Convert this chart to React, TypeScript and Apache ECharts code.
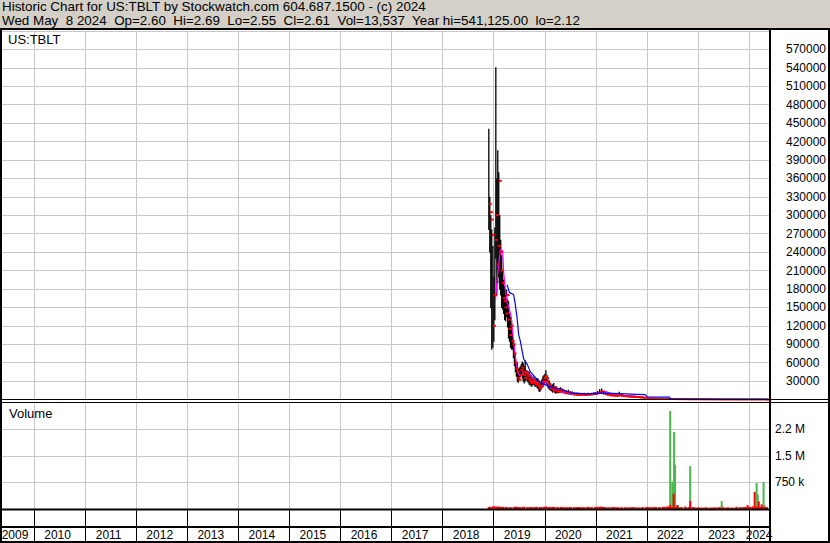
import React, { useEffect, useRef } from "react";
import * as echarts from "echarts";

// ---------- DATA ----------
const headerLine1 = "Historic Chart for US:TBLT by Stockwatch.com 604.687.1500 - (c) 2024";
const headerLine2 =
  "Wed May  8 2024  Op=2.60  Hi=2.69  Lo=2.55  Cl=2.61  Vol=13,537  Year hi=541,125.00  lo=2.12";
const symbolLabel = "US:TBLT";
const volumeLabel = "Volume";

// [date, high, low, close]
const barsLaunch: [string, number, number, number][] = [
  ["2018-11-27", 441000, 277000, 318000],
  ["2018-12-04", 330000, 240000, 305000],
  ["2018-12-11", 300000, 150000, 293000],
  ["2018-12-18", 277000, 82000, 268000],
  ["2018-12-26", 250000, 85000, 120000],
  ["2019-01-02", 200000, 95000, 170000],
  ["2019-01-09", 280000, 130000, 260000],
  ["2019-01-16", 541125, 230000, 300000],
  ["2019-01-23", 360000, 170000, 220000],
  ["2019-01-30", 406000, 190000, 250000],
  ["2019-02-06", 370000, 200000, 356000],
  ["2019-02-13", 300000, 180000, 240000],
  ["2019-02-20", 260000, 170000, 210000],
  ["2019-02-27", 235000, 150000, 190000],
  ["2019-03-06", 210000, 147000, 165000],
  ["2019-03-13", 195000, 140000, 160000],
  ["2019-03-20", 185000, 130000, 150000],
  ["2019-03-27", 175000, 128000, 140000],
  ["2019-04-03", 179000, 135000, 170000],
  ["2019-04-10", 163000, 118000, 130000],
  ["2019-04-17", 160000, 100000, 115000],
  ["2019-04-24", 140000, 95000, 105000],
  ["2019-05-01", 135000, 85000, 120000],
  ["2019-05-08", 130000, 82000, 95000],
  ["2019-05-15", 110000, 82000, 90000],
  ["2019-05-22", 98000, 68000, 75000],
  ["2019-05-29", 90000, 55000, 60000],
  ["2019-06-05", 75000, 45000, 50000],
  ["2019-06-12", 62000, 38000, 45000],
  ["2019-06-19", 60000, 30000, 35000],
  ["2019-06-26", 50000, 28000, 32000],
  ["2019-07-03", 52000, 33000, 40000],
  ["2019-07-10", 54000, 37000, 48000],
  ["2019-07-17", 58000, 40000, 52000],
  ["2019-07-24", 62000, 35000, 45000],
  ["2019-07-31", 60000, 30000, 40000],
  ["2019-08-07", 55000, 27000, 35000],
  ["2019-08-14", 64000, 30000, 45000],
  ["2019-08-21", 48000, 33000, 42000],
  ["2019-08-28", 47000, 30000, 38000],
  ["2019-09-04", 45000, 28000, 33000],
  ["2019-09-11", 46000, 25000, 30000],
  ["2019-09-18", 42000, 24000, 28000],
  ["2019-09-25", 40000, 22000, 27000],
  ["2019-10-02", 38000, 22000, 30000],
  ["2019-10-09", 37000, 25000, 32000],
  ["2019-10-16", 36000, 24000, 27000],
  ["2019-10-23", 34000, 21000, 25000],
  ["2019-10-30", 33000, 22000, 24000],
  ["2019-11-06", 35000, 20000, 28000],
  ["2019-11-13", 34000, 18000, 22000],
  ["2019-11-20", 30000, 14000, 18000],
  ["2019-11-27", 26000, 13000, 20000],
  ["2019-12-04", 28000, 16000, 22000],
  ["2019-12-11", 33000, 20000, 28000],
  ["2019-12-18", 38000, 22000, 30000],
  ["2019-12-26", 40000, 24000, 35000],
];

const bars2020: [string, number, number, number][] = [
  ["2020-01-02", 42000, 27000, 38000],
  ["2020-01-09", 47600, 28000, 35000],
  ["2020-01-16", 40000, 25000, 30000],
  ["2020-01-23", 33000, 20000, 25000],
  ["2020-01-30", 30000, 18000, 22000],
  ["2020-02-06", 28000, 16000, 20000],
  ["2020-02-13", 26000, 15000, 18000],
  ["2020-02-20", 24000, 14000, 17000],
  ["2020-02-27", 25000, 12000, 15000],
  ["2020-03-05", 27000, 14000, 20000],
  ["2020-03-12", 22000, 12000, 15000],
  ["2020-03-19", 20000, 10000, 13000],
  ["2020-03-26", 21000, 12000, 16000],
  ["2020-04-02", 18000, 11000, 14000],
  ["2020-04-09", 17000, 11000, 13000],
  ["2020-04-16", 19000, 12000, 16000],
  ["2020-04-23", 20000, 12000, 15000],
  ["2020-05-07", 18000, 11000, 13000],
  ["2020-05-21", 16000, 10000, 12000],
  ["2020-06-04", 15000, 9000, 11000],
  ["2020-06-18", 16000, 9000, 12000],
  ["2020-07-02", 14000, 8000, 10000],
  ["2020-07-16", 13000, 8000, 9000],
  ["2020-07-30", 12000, 7000, 9000],
  ["2020-08-13", 11000, 7000, 8000],
  ["2020-08-27", 11000, 7000, 8000],
  ["2020-09-10", 10000, 7000, 8000],
  ["2020-09-24", 10000, 7000, 8000],
  ["2020-10-08", 11000, 7000, 8000],
  ["2020-10-22", 10000, 7000, 8000],
  ["2020-11-05", 11000, 7000, 9000],
  ["2020-11-19", 10000, 7000, 8000],
  ["2020-12-03", 11000, 8000, 9000],
  ["2020-12-17", 12000, 8000, 10000],
];

const bars2021: [string, number, number, number][] = [
  ["2020-12-31", 12000, 8000, 10000],
  ["2021-01-14", 14000, 9000, 11000],
  ["2021-01-28", 17000, 10000, 12000],
  ["2021-02-11", 17900, 11000, 13000],
  ["2021-02-25", 14000, 9000, 10000],
  ["2021-03-11", 12000, 8000, 9000],
  ["2021-03-25", 11000, 7000, 8000],
  ["2021-04-08", 10000, 6500, 7000],
  ["2021-04-22", 9500, 6000, 7000],
  ["2021-05-06", 9000, 6000, 6500],
  ["2021-05-20", 8500, 5500, 6000],
  ["2021-06-03", 10000, 5500, 6500],
  ["2021-06-17", 12500, 6000, 7000],
  ["2021-07-01", 9000, 5500, 6000],
  ["2021-07-15", 8000, 5000, 5500],
  ["2021-07-29", 7500, 5000, 5500],
  ["2021-08-12", 7000, 4500, 5000],
  ["2021-08-26", 7000, 4500, 5000],
  ["2021-09-09", 6500, 4000, 4500],
  ["2021-09-23", 6500, 4000, 4500],
  ["2021-10-07", 6000, 3800, 4200],
  ["2021-10-21", 5500, 3500, 4000],
  ["2021-11-04", 5000, 3200, 3600],
  ["2021-11-18", 4800, 3000, 3400],
  ["2021-12-02", 4400, 2800, 3000],
  ["2021-12-16", 4000, 2500, 2800],
];

const barsLate: [string, number, number, number][] = [
  ["2022-01-06", 2500, 1600, 1900],
  ["2022-01-27", 2300, 1500, 1800],
  ["2022-02-17", 2100, 1400, 1600],
  ["2022-03-10", 1900, 1200, 1400],
  ["2022-03-31", 1700, 1100, 1300],
  ["2022-04-21", 1500, 1000, 1200],
  ["2022-05-12", 1300, 900, 1000],
  ["2022-06-02", 1200, 800, 900],
  ["2022-06-23", 1800, 700, 800],
  ["2022-07-14", 1500, 600, 700],
  ["2022-08-04", 1000, 600, 650],
  ["2022-08-25", 900, 550, 600],
  ["2022-09-15", 800, 500, 550],
  ["2022-10-06", 700, 450, 500],
  ["2022-10-27", 650, 400, 450],
  ["2022-11-17", 900, 350, 400],
  ["2022-12-08", 500, 300, 350],
  ["2022-12-29", 450, 280, 300],
  ["2023-01-19", 420, 250, 280],
  ["2023-02-09", 380, 220, 250],
  ["2023-03-02", 350, 200, 220],
  ["2023-03-23", 300, 180, 200],
  ["2023-04-13", 260, 150, 170],
  ["2023-05-04", 230, 130, 150],
  ["2023-05-25", 200, 110, 130],
  ["2023-06-15", 190, 100, 120],
  ["2023-07-06", 160, 90, 100],
  ["2023-07-27", 140, 80, 90],
  ["2023-08-17", 120, 70, 80],
  ["2023-09-07", 100, 60, 70],
  ["2023-09-28", 90, 50, 60],
  ["2023-10-19", 70, 40, 45],
  ["2023-11-09", 55, 30, 35],
  ["2023-11-30", 40, 20, 25],
  ["2023-12-21", 30, 12, 15],
  ["2024-01-11", 18, 8, 10],
  ["2024-02-01", 12, 5, 6],
  ["2024-02-22", 8, 3, 4],
  ["2024-03-14", 5, 2.5, 3.2],
  ["2024-04-04", 4, 2.3, 2.8],
  ["2024-04-25", 3.2, 2.2, 2.7],
  ["2024-05-08", 2.69, 2.55, 2.61],
];

// moving averages [date, value]
const pinkMA: [string, number][] = [
  ["2019-01-13", 160000],
  ["2019-01-27", 200000],
  ["2019-02-18", 245000],
  ["2019-03-06", 242000],
  ["2019-03-13", 207000],
  ["2019-03-25", 179000],
  ["2019-04-06", 158000],
  ["2019-04-17", 152000],
  ["2019-05-05", 136000],
  ["2019-05-19", 103000],
  ["2019-06-04", 70600],
  ["2019-06-17", 51600],
  ["2019-06-28", 40800],
  ["2019-07-10", 38000],
  ["2019-08-03", 43500],
  ["2019-08-27", 44500],
  ["2019-09-20", 39000],
  ["2019-11-06", 27000],
  ["2019-11-30", 21700],
  ["2019-12-24", 24000],
  ["2020-01-05", 30000],
  ["2020-01-19", 27000],
  ["2020-02-10", 19000],
  ["2020-04-21", 11900],
  ["2020-07-02", 9200],
  ["2020-09-12", 8000],
  ["2020-11-22", 9000],
  ["2021-01-20", 10500],
  ["2021-02-20", 13600],
  ["2021-03-20", 12500],
  ["2021-04-20", 9500],
  ["2021-06-25", 7000],
  ["2021-11-14", 4500],
  ["2022-01-15", 2200],
  ["2022-06-17", 900],
  ["2023-06-01", 200],
  ["2024-05-08", 10],
];

const blueMA: [string, number][] = [
  ["2019-04-06", 187000],
  ["2019-04-24", 174000],
  ["2019-05-23", 171000],
  ["2019-06-04", 155000],
  ["2019-06-17", 133000],
  ["2019-06-28", 106000],
  ["2019-07-10", 95000],
  ["2019-08-03", 66000],
  ["2019-08-27", 58000],
  ["2019-09-20", 45000],
  ["2019-11-06", 33000],
  ["2019-12-24", 25000],
  ["2020-03-05", 19000],
  ["2020-05-15", 15000],
  ["2020-07-02", 10900],
  ["2020-10-29", 9000],
  ["2021-02-25", 10500],
  ["2021-06-25", 9500],
  ["2021-10-22", 8500],
  ["2021-12-20", 8000],
  ["2022-01-05", 4300],
  ["2022-06-10", 4000],
  ["2022-06-20", 900],
  ["2024-05-08", 700],
];

// volume [date, shares]
const volUp: [string, number][] = [
  ["2019-06-10", 65000],
  ["2020-01-15", 70000],
  ["2020-08-15", 60000],
  ["2021-02-10", 70000],
  ["2021-09-15", 55000],
  ["2022-06-16", 2760000],
  ["2022-07-01", 770000],
  ["2022-07-14", 2170000],
  ["2022-07-21", 1250000],
  ["2022-08-12", 110000],
  ["2022-10-01", 80000],
  ["2022-11-06", 1210000],
  ["2023-06-19", 225000],
  ["2023-06-26", 80000],
  ["2023-10-04", 70000],
  ["2023-11-23", 60000],
  ["2024-02-24", 730000],
  ["2024-03-03", 410000],
  ["2024-04-14", 760000],
  ["2024-04-21", 110000],
];

const volDownBase: [string, number][] = [
  ["2018-12-03", 60000], ["2019-01-02", 75000], ["2019-02-01", 70000], ["2019-03-01", 60000],
  ["2019-04-01", 55000], ["2019-05-01", 50000], ["2019-06-03", 60000], ["2019-07-01", 55000],
  ["2019-08-01", 60000], ["2019-09-03", 50000], ["2019-10-01", 55000], ["2019-11-01", 60000],
  ["2019-12-02", 55000], ["2020-01-02", 65000], ["2020-02-03", 55000], ["2020-03-02", 60000],
  ["2020-04-01", 50000], ["2020-05-01", 55000], ["2020-06-01", 50000], ["2020-07-01", 55000],
  ["2020-08-03", 50000], ["2020-09-01", 55000], ["2020-10-01", 50000], ["2020-11-02", 55000],
  ["2020-12-01", 50000], ["2021-01-04", 60000], ["2021-02-01", 65000], ["2021-03-01", 55000],
  ["2021-04-01", 50000], ["2021-05-03", 55000], ["2021-06-01", 50000], ["2021-07-01", 45000],
  ["2021-08-02", 50000], ["2021-09-01", 45000], ["2021-10-01", 50000], ["2021-11-01", 45000],
  ["2021-12-01", 50000], ["2022-01-03", 55000], ["2022-02-01", 50000], ["2022-03-01", 55000],
  ["2022-04-01", 50000], ["2022-05-02", 60000], ["2022-06-01", 70000], ["2022-07-01", 60000],
  ["2022-08-01", 55000], ["2022-09-01", 50000], ["2022-10-03", 45000], ["2022-11-01", 55000],
  ["2022-12-01", 50000], ["2023-01-03", 45000], ["2023-02-01", 40000], ["2023-03-01", 45000],
  ["2023-04-03", 40000], ["2023-05-01", 45000], ["2023-06-01", 50000], ["2023-07-03", 40000],
  ["2023-08-01", 45000], ["2023-09-01", 40000], ["2023-10-02", 45000], ["2023-11-01", 50000],
  ["2023-12-01", 55000], ["2024-01-02", 60000], ["2024-02-01", 70000], ["2024-03-01", 65000],
  ["2024-04-01", 60000], ["2024-05-01", 55000],
];

const volDownSpikes: [string, number][] = [
  ["2022-06-16", 110000],
  ["2022-07-11", 430000],
  ["2022-08-05", 110000],
  ["2022-11-06", 225000],
  ["2023-12-21", 110000],
  ["2024-02-10", 480000],
  ["2024-03-10", 220000],
  ["2024-03-31", 130000],
];

const yearFirst = 2009;
const yearLast = 2024;
const axisEnd = 2024.39; // chart runs to ~mid May 2024

// ---------- HELPERS ----------
function decYear(s: string): number {
  const d = new Date(s + "T00:00:00Z");
  const y = d.getUTCFullYear();
  const a = Date.UTC(y, 0, 1);
  const b = Date.UTC(y + 1, 0, 1);
  return y + (d.getTime() - a) / (b - a);
}

const FONT = '"Liberation Sans", Arial, sans-serif';
const GRIDC = "#c8c8c8";
const GREEN = "#4cb84c";
const RED = "#ff0000";

function renderRange(_params: any, api: any) {
  const x = api.value(0);
  const hi = api.coord([x, api.value(1)]);
  const lo = api.coord([x, api.value(2)]);
  return {
    type: "line",
    shape: { x1: hi[0], y1: hi[1], x2: lo[0], y2: lo[1] + 0.5 },
    style: { stroke: "#000", lineWidth: 1.3 },
  };
}

function renderClose(_params: any, api: any) {
  const x = api.value(0);
  const cl = api.coord([x, api.value(3)]);
  return {
    type: "line",
    shape: { x1: cl[0], y1: cl[1], x2: cl[0] + 3, y2: cl[1] },
    style: { stroke: RED, lineWidth: 2 },
  };
}

function volRender(width: number, color: string) {
  return (_params: any, api: any) => {
    const x = api.value(0);
    const top = api.coord([x, api.value(1)]);
    const base = api.coord([x, 0]);
    return {
      type: "rect",
      shape: { x: top[0] - width / 2, y: top[1], width, height: base[1] - top[1] },
      style: { fill: color },
    };
  };
}

function gLine(x1: number, y1: number, x2: number, y2: number, w = 1) {
  return {
    type: "line",
    silent: true,
    z: 100,
    shape: { x1, y1, x2, y2 },
    style: { stroke: "#000", lineWidth: w },
  };
}

function gText(text: string, x: number, y: number, size = 13) {
  return {
    type: "text",
    silent: true,
    z: 101,
    x,
    y,
    style: {
      text,
      fill: "#000",
      font: `${size}px ${FONT}`,
      textVerticalAlign: "top",
      verticalAlign: "top",
    },
  };
}

function volFmt(v: number): string {
  if (v >= 1000000) return Math.floor(v / 100000) / 10 + " M";
  return v / 1000 + " k";
}

// ---------- OPTION ----------
function buildOption() {
  const allBars = [...barsLaunch, ...bars2020, ...bars2021, ...barsLate].map((b) => [
    decYear(b[0]),
    b[1],
    b[2],
    b[3],
  ]);
  const pts = (arr: [string, number][]) => arr.map((p) => [decYear(p[0]), p[1]]);

  const gridPos = { left: -17, right: 61, containLabel: false, outerBoundsMode: "none" };
  const xBase = {
    type: "value",
    min: yearFirst,
    max: axisEnd,
    interval: 1,
    axisLine: { show: false },
    axisTick: { show: false },
    axisLabel: { show: false },
    splitLine: { show: true, lineStyle: { color: GRIDC, width: 1 } },
  };

  return {
    animation: false,
    backgroundColor: "#ffffff",
    textStyle: { fontFamily: FONT },
    grid: [
      { ...gridPos, top: 31, height: 368.5 },
      { ...gridPos, top: 402.5, height: 106.5 },
      { ...gridPos, top: 510.5, height: 31 },
    ],
    xAxis: [
      { ...xBase, gridIndex: 0 },
      { ...xBase, gridIndex: 1 },
      {
        ...xBase,
        gridIndex: 2,
        splitLine: { show: true, lineStyle: { color: "#000", width: 1 } },
        axisLabel: {
          show: true,
          inside: true,
          margin: 1,
          color: "#000",
          fontSize: 12,
          fontFamily: FONT,
          formatter: (v: number) => {
            if (!Number.isInteger(v)) return "";
            if (v === yearFirst) return `{f|${v}}`;
            if (v === yearLast) return `{l|${v}}`;
            return `{m|${v}}`;
          },
          rich: {
            f: { padding: [0, 0, 0, 64], fontSize: 12, fontFamily: FONT, color: "#000" },
            m: { padding: [0, 0, 0, 47], fontSize: 12, fontFamily: FONT, color: "#000" },
            l: { padding: [0, 0, 0, 20], fontSize: 12, fontFamily: FONT, color: "#000" },
          },
        },
      },
    ],
    yAxis: [
      {
        type: "value",
        gridIndex: 0,
        position: "right",
        min: 0,
        max: 600000,
        interval: 30000,
        axisLine: { show: false },
        axisTick: { show: false },
        splitLine: { show: true, lineStyle: { color: GRIDC, width: 1 } },
        axisLabel: {
          show: true,
          showMinLabel: false,
          showMaxLabel: false,
          margin: 17,
          align: "left",
          color: "#000",
          fontSize: 12,
          fontFamily: FONT,
          padding: [0, 0, 4, 0],
          formatter: (v: number) => String(v),
        },
      },
      {
        type: "value",
        gridIndex: 1,
        position: "right",
        min: 0,
        max: 3000000,
        interval: 750000,
        axisLine: { show: false },
        axisTick: { show: false },
        splitLine: { show: true, lineStyle: { color: GRIDC, width: 1 } },
        axisLabel: {
          show: true,
          showMinLabel: false,
          showMaxLabel: false,
          margin: 6,
          align: "left",
          color: "#000",
          fontSize: 12,
          fontFamily: FONT,
          formatter: volFmt,
        },
      },
      { type: "value", gridIndex: 2, min: 0, max: 1, show: false },
    ],
    series: [
      {
        type: "custom",
        name: "price range",
        xAxisIndex: 0,
        yAxisIndex: 0,
        clip: false,
        silent: true,
        z: 2,
        renderItem: renderRange,
        encode: { x: 0, y: [1, 2, 3] },
        data: allBars,
      },
      {
        type: "line",
        name: "ma short",
        xAxisIndex: 0,
        yAxisIndex: 0,
        showSymbol: false,
        silent: true,
        z: 3,
        lineStyle: { color: "#ff00ff", width: 1.2 },
        data: pts(pinkMA),
      },
      {
        type: "custom",
        name: "close",
        xAxisIndex: 0,
        yAxisIndex: 0,
        clip: false,
        silent: true,
        z: 4,
        renderItem: renderClose,
        encode: { x: 0, y: [1, 2, 3] },
        data: allBars,
      },
      {
        type: "line",
        name: "ma long",
        xAxisIndex: 0,
        yAxisIndex: 0,
        showSymbol: false,
        silent: true,
        z: 5,
        lineStyle: { color: "#0000ff", width: 1.2 },
        data: pts(blueMA),
      },
      {
        type: "custom",
        name: "vol up",
        xAxisIndex: 1,
        yAxisIndex: 1,
        silent: true,
        renderItem: volRender(2, GREEN),
        data: pts(volUp),
      },
      {
        type: "custom",
        name: "vol down base",
        xAxisIndex: 1,
        yAxisIndex: 1,
        silent: true,
        renderItem: volRender(4, RED),
        data: pts(volDownBase),
      },
      {
        type: "custom",
        name: "vol down",
        xAxisIndex: 1,
        yAxisIndex: 1,
        silent: true,
        renderItem: volRender(2, RED),
        data: pts(volDownSpikes),
      },
    ],
    graphic: [
      {
        type: "rect",
        silent: true,
        z: 99,
        shape: { x: 0, y: 0, width: 830, height: 28 },
        style: { fill: "#d4d0c8" },
      },
      gText(headerLine1, 2, 0, 13.4),
      gText(headerLine2, 2, 13.6, 13.4),
      gText(symbolLabel, 8, 32.5),
      gText(volumeLabel, 9, 407),
      gLine(0, 29, 830, 29, 2),
      gLine(1, 29, 1, 543, 2),
      gLine(829, 29, 829, 543, 2),
      gLine(770, 29, 770, 543, 2),
      gLine(0, 399.5, 830, 399.5, 1),
      gLine(0, 402.5, 830, 402.5, 1),
      gLine(0, 509.5, 770, 509.5, 2),
      gLine(0, 527, 770, 527, 2),
      gLine(0, 542, 830, 542, 2),
    ],
  };
}

export default function App() {
  const ref = useRef<HTMLDivElement>(null);
  useEffect(() => {
    if (!ref.current) return;
    const chart = echarts.init(ref.current, null, { renderer: "svg", width: 830, height: 543 });
    chart.setOption(buildOption() as any);
    return () => chart.dispose();
  }, []);
  return (
    <div
      ref={ref}
      style={{ position: "absolute", left: 0, top: 0, width: 830, height: 543, background: "#fff" }}
    />
  );
}
